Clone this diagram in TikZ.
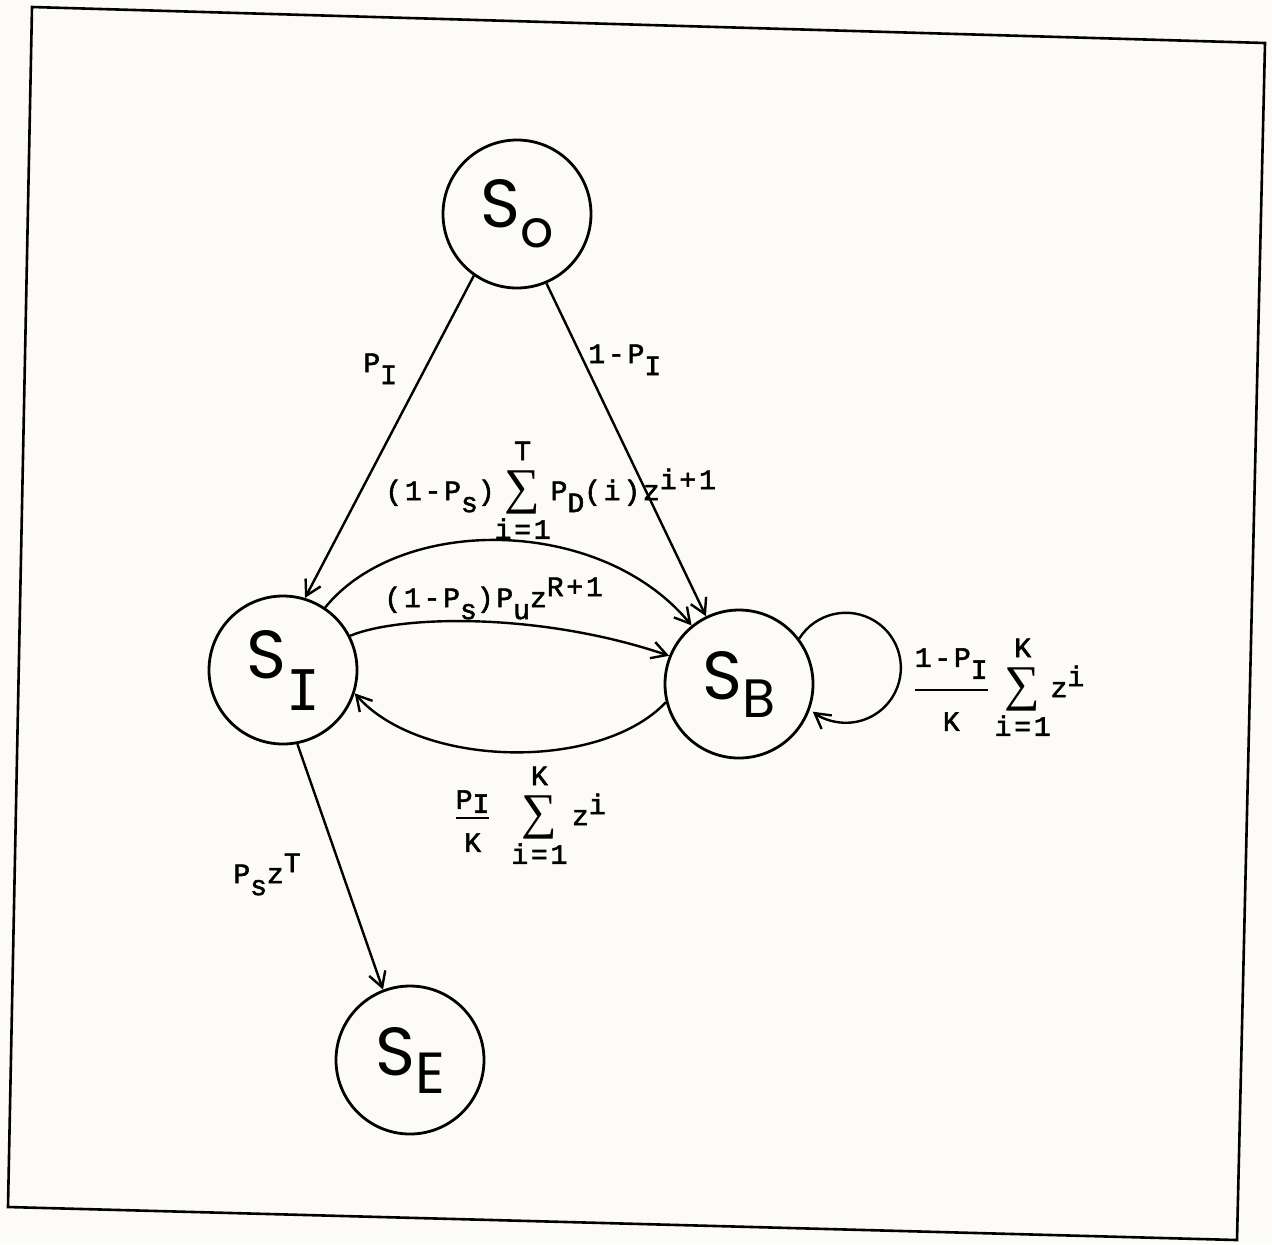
\documentclass[tikz,border=0pt]{standalone}
\usepackage{amsmath}
\usepackage{fontspec}
\usetikzlibrary{arrows.meta}
\newfontfamily\statefont{Poppins}
\newfontfamily\stmono{DejaVu Sans Mono}
\newfontfamily\lblfont{Liberation Mono}[LetterSpace=10,FakeBold=2]
\newfontfamily\sigfont{Liberation Serif}
\definecolor{paper}{RGB}{253,251,247}
\newcommand\lsub[1]{\raisebox{-6pt}{#1}}
\newcommand\lsup[1]{\raisebox{5.5pt}{#1}}
\newcommand\lbltxt[1]{\hbox{\lblfont #1}}
\newcommand\lsum[2]{$\mathop{\raisebox{-1.5pt}{\sigfont\fontsize{25}{25}\selectfont ∑}}\limits_{\lbltxt{#1}}^{\lbltxt{#2\rule[-3.5pt]{0pt}{0pt}}}$}
\begin{document}
\begin{tikzpicture}[x=0.5pt,y=-0.5pt,
  stnode/.style={circle,draw,line width=1.4pt,minimum size=74pt,inner sep=0pt,font=\statefont\fontsize{34}{34}\selectfont},
  lbl/.style={inner sep=0pt,font=\lblfont\fontsize{14}{16}\selectfont},
  arr/.style={line width=1.2pt,-{Straight Barb[length=7.5pt,width=8.5pt,line width=1.2pt]}}]
\fill[paper] (0,0) rectangle (1272,1244);
\useasboundingbox (0,0) rectangle (1272,1244);
\draw[line width=1.3pt] (32,7) -- (1265,43) -- (1237,1240) -- (8,1207) -- cycle;

\node[stnode] (SO) at (517,214) {S\raisebox{-10pt}{\fontsize{26}{26}\selectfont o}};
\node[stnode] (SI) at (283,670) {S\raisebox{-16pt}{\stmono\fontsize{28}{28}\selectfont I}};
\node[stnode] (SB) at (739,684) {S\raisebox{-9pt}{\fontsize{27}{27}\selectfont B}};
\node[stnode] (SE) at (410,1060) {S\raisebox{-9pt}{\fontsize{29}{29}\selectfont E}};

\draw[arr] (SO.235) -- (SI.73);
\draw[arr] (SO.293) -- (SB.116);
\draw[arr] (SI.281) -- (SE.111);
\draw[arr] (SI.56) .. controls (400,515) and (600,515) .. (SB.129);
\draw[arr] (SI.27) .. controls (400,615) and (540,612) .. (SB.158);
\draw[arr] (SB.194) .. controls (600,772) and (420,768) .. (SI.342);
\draw[arr] (SB.37) arc[start angle=212,end angle=487,radius=55];

\node[lbl,anchor=base west] (lPI) at (363,372) {P\lsub{I}};
\node[lbl,anchor=base west] (l1PI) at (588,363) {1-P\lsub{I}};
\node[lbl,anchor=base west] (lup) at (385,500) {(1-P\lsub{s})\lsum{i=1}{T}P\lsub{D}(i)z\lsup{i+1}};
\node[lbl,anchor=base west] (lmid) at (384,607) {(1-P\lsub{s})P\lsub{u}z\lsup{R+1}};
\node[lbl,anchor=base west] (llow) at (453,825) {$\genfrac{}{}{1pt}{1}{\lbltxt{P\raisebox{-2pt}{I}\rule[-3pt]{0pt}{0pt}}}{\lbltxt{\rule{0pt}{15.5pt}K}}$ \lsum{i=1}{K}\,z\lsup{i}};
\node[lbl,anchor=base west] (lloop) at (912,697) {$\genfrac{}{}{1pt}{1}{\lbltxt{1-P\lsub{I}\rule[-10pt]{0pt}{0pt}}}{\lbltxt{\rule{0pt}{19pt}K}}$\,\lsum{i=1}{K}z\lsup{i}};
\node[lbl,anchor=base west] (lPs) at (233,883) {P\lsub{s}z\lsup{T}};
\end{tikzpicture}
\end{document}
